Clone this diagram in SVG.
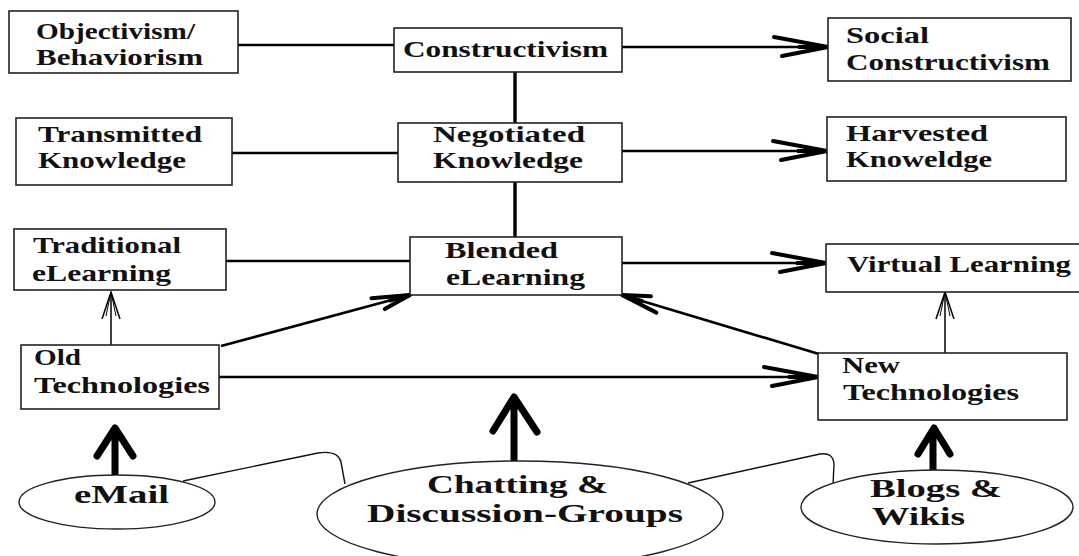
<svg xmlns="http://www.w3.org/2000/svg" width="1079" height="556" viewBox="0 0 1079 556">
<defs>
<style>
.box{fill:#fff;stroke:#222;stroke-width:1.6}
.ell{fill:#fff;stroke:#222;stroke-width:1.4}
.t{font-family:"Liberation Serif","Times New Roman",serif;font-weight:bold;font-size:23px;fill:#111}
.te{font-family:"Liberation Serif","Times New Roman",serif;font-weight:bold;font-size:26px;fill:#111}
.c{fill:none;stroke:#000;stroke-width:2.6}
.v{fill:none;stroke:#000;stroke-width:3.4}
.thin{fill:none;stroke:#000;stroke-width:1.5}
.curve{fill:none;stroke:#111;stroke-width:1.4}
.bold{fill:none;stroke:#000;stroke-width:7;stroke-linecap:round;stroke-linejoin:round}
</style>
<marker id="big" markerUnits="userSpaceOnUse" markerWidth="70" markerHeight="30" viewBox="-60 -15 64 30" refX="0" refY="0" orient="auto" overflow="visible">
<path d="M-54,-10 L0,0 L-46,9" fill="none" stroke="#000" stroke-width="4" stroke-linecap="round" stroke-linejoin="round"/>
<path d="M-30,0 L0,0" stroke="#000" stroke-width="4"/>
</marker>
<marker id="mid" markerUnits="userSpaceOnUse" markerWidth="50" markerHeight="24" viewBox="-44 -12 48 24" refX="0" refY="0" orient="auto" overflow="visible">
<path d="M-38,-7 L0,0 L-28,7" fill="none" stroke="#000" stroke-width="4" stroke-linecap="round" stroke-linejoin="round"/>
<path d="M-22,0 L0,0" stroke="#000" stroke-width="4"/>
</marker>
<marker id="thinA" markerUnits="userSpaceOnUse" markerWidth="34" markerHeight="24" viewBox="-30 -12 34 24" refX="0" refY="0" orient="auto" overflow="visible">
<path d="M-27,-9 L0,0 L-27,9" fill="none" stroke="#000" stroke-width="1.5"/>
<path d="M-24,-5 L0,0 L-24,5" fill="none" stroke="#000" stroke-width="1"/>
</marker>
</defs>
<rect width="1079" height="556" fill="#fff"/>

<g id="connectors">
<line class="c" x1="238" y1="45" x2="394" y2="45"/>
<line class="c" x1="622" y1="47" x2="828" y2="47" marker-end="url(#big)"/>
<line class="v" x1="515" y1="72" x2="515" y2="123"/>
<line class="c" x1="232" y1="153" x2="398" y2="153"/>
<line class="c" x1="622" y1="151" x2="827" y2="151" marker-end="url(#big)"/>
<line class="v" x1="515" y1="182" x2="515" y2="237"/>
<line class="c" x1="226" y1="261" x2="410" y2="261"/>
<line class="c" x1="622" y1="263" x2="826" y2="263" marker-end="url(#big)"/>
<line class="thin" x1="111" y1="345" x2="111" y2="292" marker-end="url(#thinA)"/>
<line class="c" x1="221" y1="346" x2="410" y2="295" marker-end="url(#mid)"/>
<line class="c" x1="819" y1="354" x2="622" y2="295" marker-end="url(#mid)"/>
<line class="c" x1="219" y1="377" x2="818" y2="377" marker-end="url(#big)"/>
<line class="thin" x1="945" y1="353" x2="945" y2="292" marker-end="url(#thinA)"/>
<path class="bold" d="M115,476 L115,430 M97,456 L115,428 L133,456"/>
<path class="bold" d="M514,461 L514,400 M493,431 L514,397 L537,432"/>
<path class="bold" d="M933,470 L933,431 M918,454 L934,428 L950,454"/>
<path class="curve" d="M183,481 L318,453 Q338,450 341,462 L345,484"/>
<path class="curve" d="M688,483 L820,454 Q833,452 834,464 L833,485"/>
</g>

<g id="objectivism">
<rect class="box" x="9" y="11" width="229" height="62"/>
<text class="t" x="36" y="39" textLength="159" lengthAdjust="spacingAndGlyphs">Objectivism/</text>
<text class="t" x="36" y="65" textLength="167" lengthAdjust="spacingAndGlyphs">Behaviorism</text>
</g>
<g id="constructivism">
<rect class="box" x="394" y="28" width="228" height="44"/>
<text class="t" x="403" y="57" textLength="205" lengthAdjust="spacingAndGlyphs">Constructivism</text>
</g>
<g id="social-constructivism">
<rect class="box" x="828" y="18" width="243" height="63"/>
<text class="t" x="846" y="43" textLength="83" lengthAdjust="spacingAndGlyphs">Social</text>
<text class="t" x="846" y="70" textLength="204" lengthAdjust="spacingAndGlyphs">Constructivism</text>
</g>
<g id="transmitted">
<rect class="box" x="16" y="118" width="216" height="67"/>
<text class="t" x="38" y="142" textLength="164" lengthAdjust="spacingAndGlyphs">Transmitted</text>
<text class="t" x="38" y="168" textLength="148" lengthAdjust="spacingAndGlyphs">Knowledge</text>
</g>
<g id="negotiated">
<rect class="box" x="398" y="123" width="224" height="59"/>
<text class="t" x="433" y="142" textLength="152" lengthAdjust="spacingAndGlyphs">Negotiated</text>
<text class="t" x="433" y="168" textLength="150" lengthAdjust="spacingAndGlyphs">Knowledge</text>
</g>
<g id="harvested">
<rect class="box" x="827" y="117" width="239" height="64"/>
<text class="t" x="846" y="141" textLength="142" lengthAdjust="spacingAndGlyphs">Harvested</text>
<text class="t" x="846" y="167" textLength="146" lengthAdjust="spacingAndGlyphs">Knoweldge</text>
</g>
<g id="traditional">
<rect class="box" x="14" y="229" width="212" height="61"/>
<text class="t" x="33" y="253" textLength="148" lengthAdjust="spacingAndGlyphs">Traditional</text>
<text class="t" x="32" y="281" textLength="139" lengthAdjust="spacingAndGlyphs">eLearning</text>
</g>
<g id="blended">
<rect class="box" x="410" y="237" width="212" height="58"/>
<text class="t" x="445" y="258" textLength="113" lengthAdjust="spacingAndGlyphs">Blended</text>
<text class="t" x="446" y="285" textLength="139" lengthAdjust="spacingAndGlyphs">eLearning</text>
</g>
<g id="virtual">
<rect class="box" x="826" y="244" width="262" height="48"/>
<text class="t" x="847" y="272" textLength="224" lengthAdjust="spacingAndGlyphs">Virtual Learning</text>
</g>
<g id="old-tech">
<rect class="box" x="21" y="345" width="198" height="64"/>
<text class="t" x="34" y="365" textLength="47" lengthAdjust="spacingAndGlyphs">Old</text>
<text class="t" x="34" y="393" textLength="176" lengthAdjust="spacingAndGlyphs">Technologies</text>
</g>
<g id="new-tech">
<rect class="box" x="818" y="353" width="249" height="67"/>
<text class="t" x="842" y="373" textLength="58" lengthAdjust="spacingAndGlyphs">New</text>
<text class="t" x="843" y="400" textLength="176" lengthAdjust="spacingAndGlyphs">Technologies</text>
</g>
<g id="email">
<ellipse class="ell" cx="117" cy="502" rx="98" ry="27"/>
<text class="te" x="74" y="503" font-size="25" textLength="95" lengthAdjust="spacingAndGlyphs">eMail</text>
</g>
<g id="chatting">
<ellipse class="ell" cx="520" cy="514" rx="203" ry="53"/>
<text class="te" x="427" y="493" textLength="181" lengthAdjust="spacingAndGlyphs">Chatting &amp;</text>
<text class="te" x="367" y="522" textLength="316" lengthAdjust="spacingAndGlyphs">Discussion-Groups</text>
</g>
<g id="blogs">
<ellipse class="ell" cx="937" cy="507" rx="136" ry="37"/>
<text class="te" x="870" y="497" textLength="132" lengthAdjust="spacingAndGlyphs">Blogs &amp;</text>
<text class="te" x="872" y="525" textLength="93" lengthAdjust="spacingAndGlyphs">Wikis</text>
</g>
</svg>
